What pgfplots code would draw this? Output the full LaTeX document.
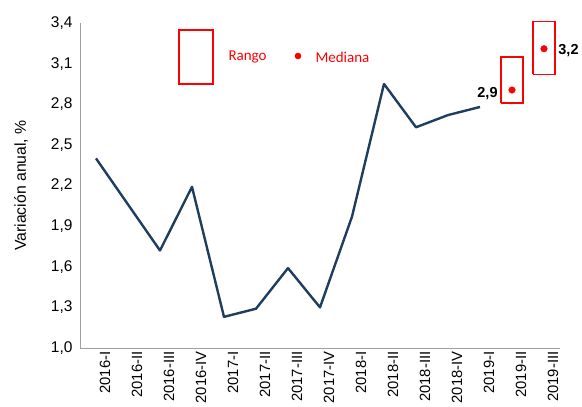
\documentclass[border=0pt]{standalone}
\usepackage{pgfplots}
\pgfplotsset{compat=1.18}
\usepackage{fontspec}
\setmainfont{Liberation Sans}
\newfontfamily\calib{Carlito}
\definecolor{linenavy}{HTML}{1F3D5E}
\definecolor{axisgray}{HTML}{A0A0A0}
\definecolor{rangored}{HTML}{FF0000}

\begin{document}
\begin{tikzpicture}
\begin{axis}[
    scale only axis,
    width=480pt, height=325pt,
    xmin=-0.5, xmax=14.5,
    ymin=1.0, ymax=3.4,
    ytick={1.0,1.3,...,3.41},
    xtick={0,...,14},
    xticklabels={2016-I,2016-II,2016-III,2016-IV,2017-I,2017-II,2017-III,2017-IV,2018-I,2018-II,2018-III,2018-IV,2019-I,2019-II,2019-III},
    axis x line=bottom, axis y line=left,
    axis line style={draw=axisgray, line width=0.8pt, -},
    major tick length=0pt,
    /pgf/number format/.cd, use comma, fixed, fixed zerofill, precision=1, assume math mode=true,
    /pgfplots/.cd,
    y tick label style={font=\fontsize{15.5}{17}\selectfont, xshift=-4pt},
    x tick label style={font=\fontsize{14.8}{16}\selectfont, rotate=90, anchor=east, yshift=-9pt},
    ylabel={Variación anual, \%},
    ylabel style={font=\fontsize{15.8}{17}\selectfont, at={(axis description cs:-0.123,0.5)}, anchor=center},
    clip=false,
]
\addplot[linenavy, line width=2.4pt, line join=round] coordinates {
    (0,2.40) (1,2.06) (2,1.72) (3,2.19) (4,1.23) (5,1.29) (6,1.59) (7,1.30)
    (8,1.97) (9,2.95) (10,2.63) (11,2.72) (12,2.78)
};
% range boxes
\addplot[rangored, line width=1.4pt] coordinates {
    (12.66,2.81) (13.34,2.81) (13.34,3.15) (12.66,3.15) (12.66,2.81)
};
\addplot[rangored, line width=1.4pt] coordinates {
    (13.66,3.02) (14.34,3.02) (14.34,3.41) (13.66,3.41) (13.66,3.02)
};
% medians
\addplot[only marks, mark=*, mark size=3.3pt, rangored] coordinates {
    (13,2.905) (14,3.21)
};
\node[anchor=east, font=\bfseries\fontsize{14.5}{16}\selectfont] at (axis cs:12.66,2.88) {2,9};
\node[anchor=west, font=\bfseries\fontsize{14.5}{16}\selectfont] at (axis cs:14.34,3.2) {3,2};
\end{axis}
% legend
\draw[rangored, line width=1.4pt] (99pt,264pt) rectangle (133pt,318pt);
\node[anchor=west, text=rangored, font=\calib\fontsize{15}{17}\selectfont] at (145pt,291pt) {Rango};
\fill[rangored] (218pt,292pt) circle (3.3pt);
\node[anchor=west, text=rangored, font=\calib\fontsize{15}{17}\selectfont] at (232pt,291pt) {Mediana};
\path[use as bounding box] (-80pt,-58pt) rectangle (502pt,348pt);
\end{tikzpicture}
\end{document}
